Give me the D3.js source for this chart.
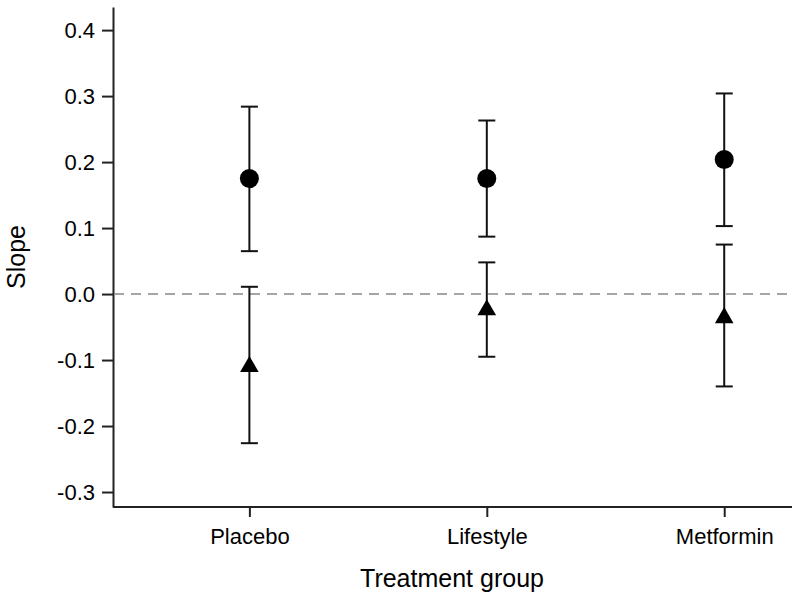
<!DOCTYPE html>
<html>
<head>
<meta charset="utf-8">
<script src="https://cdn.jsdelivr.net/npm/d3@7"></script>
<style>
  body { margin: 0; background: #fff; }
  text { font-family: Arial, "Liberation Sans", Helvetica, sans-serif; fill: #000; }
</style>
</head>
<body>
<svg id="chart" width="800" height="600"></svg>
<script>
const categories = ["Placebo", "Lifestyle", "Metformin"];
// circles series
const circleMean = [0.175, 0.175, 0.204];
const circleUpper = [0.284, 0.263, 0.304];
const circleLower = [0.065, 0.087, 0.103];
// triangles series
const triMean = [-0.110, -0.024, -0.036];
const triUpper = [0.011, 0.048, 0.075];
const triLower = [-0.226, -0.095, -0.140];
const yTicks = [-0.3, -0.2, -0.1, 0.0, 0.1, 0.2, 0.3, 0.4];

const svg = d3.select("#chart");
const mLeft = 113, mRight = 792, mTop = 7, mBottom = 507;

const x = d3.scalePoint().domain(categories).range([mLeft, mRight]).padding(0.43).align(0.668);
const y = d3.scaleLinear().domain([-0.3227, 0.435]).range([mBottom, mTop]);

// Y axis
const yAxis = svg.append("g").attr("transform", `translate(${mLeft},0)`)
  .call(d3.axisLeft(y).tickValues(yTicks).tickFormat(d3.format(".1f")).tickSize(11).tickPadding(7).tickSizeOuter(0));
yAxis.select(".domain").attr("stroke", "#222").attr("stroke-width", 2);
yAxis.selectAll(".tick line").attr("stroke", "#222").attr("stroke-width", 2);
yAxis.selectAll(".tick text").style("font-size", "22px").text(d => d3.format(".1f")(d).replace("−", "-"));

// X axis
const xAxis = svg.append("g").attr("transform", `translate(0,${mBottom})`)
  .call(d3.axisBottom(x).tickSize(10).tickPadding(11).tickSizeOuter(0));
xAxis.select(".domain").attr("stroke", "#222").attr("stroke-width", 2).attr("d", `M${mLeft},0H${mRight}`);
xAxis.selectAll(".tick line").attr("stroke", "#222").attr("stroke-width", 2);
xAxis.selectAll(".tick text").style("font-size", "22px");

// zero reference line
svg.append("line")
  .attr("x1", mLeft + 1).attr("x2", mRight)
  .attr("y1", y(0)).attr("y2", y(0))
  .attr("stroke", "#888").attr("stroke-width", 1.6)
  .attr("stroke-dasharray", "10,7");

// error bars
function drawBars(mean, up, lo) {
  const g = svg.append("g").attr("stroke", "#111").attr("stroke-width", 2);
  categories.forEach((c, i) => {
    const cx = x(c);
    g.append("line").attr("x1", cx).attr("x2", cx).attr("y1", y(up[i])).attr("y2", y(lo[i]));
    g.append("line").attr("x1", cx - 8.5).attr("x2", cx + 8.5).attr("y1", y(up[i])).attr("y2", y(up[i]));
    g.append("line").attr("x1", cx - 8.5).attr("x2", cx + 8.5).attr("y1", y(lo[i])).attr("y2", y(lo[i]));
  });
}
drawBars(circleMean, circleUpper, circleLower);
drawBars(triMean, triUpper, triLower);

// markers
svg.append("g").selectAll("circle").data(categories).join("circle")
  .attr("cx", d => x(d)).attr("cy", (d, i) => y(circleMean[i]))
  .attr("r", 9.5).attr("fill", "#000");

const tri = d3.symbol().type(d3.symbolTriangle).size(150);
svg.append("g").selectAll("path").data(categories).join("path")
  .attr("d", tri)
  .attr("transform", (d, i) => `translate(${x(d)},${y(triMean[i])})`)
  .attr("fill", "#000");

// axis titles
svg.append("text").attr("x", 452).attr("y", 587)
  .attr("text-anchor", "middle").style("font-size", "25px").text("Treatment group");
svg.append("text").attr("transform", "translate(25,257) rotate(-90)")
  .attr("text-anchor", "middle").style("font-size", "25px").text("Slope");
</script>
</body>
</html>
